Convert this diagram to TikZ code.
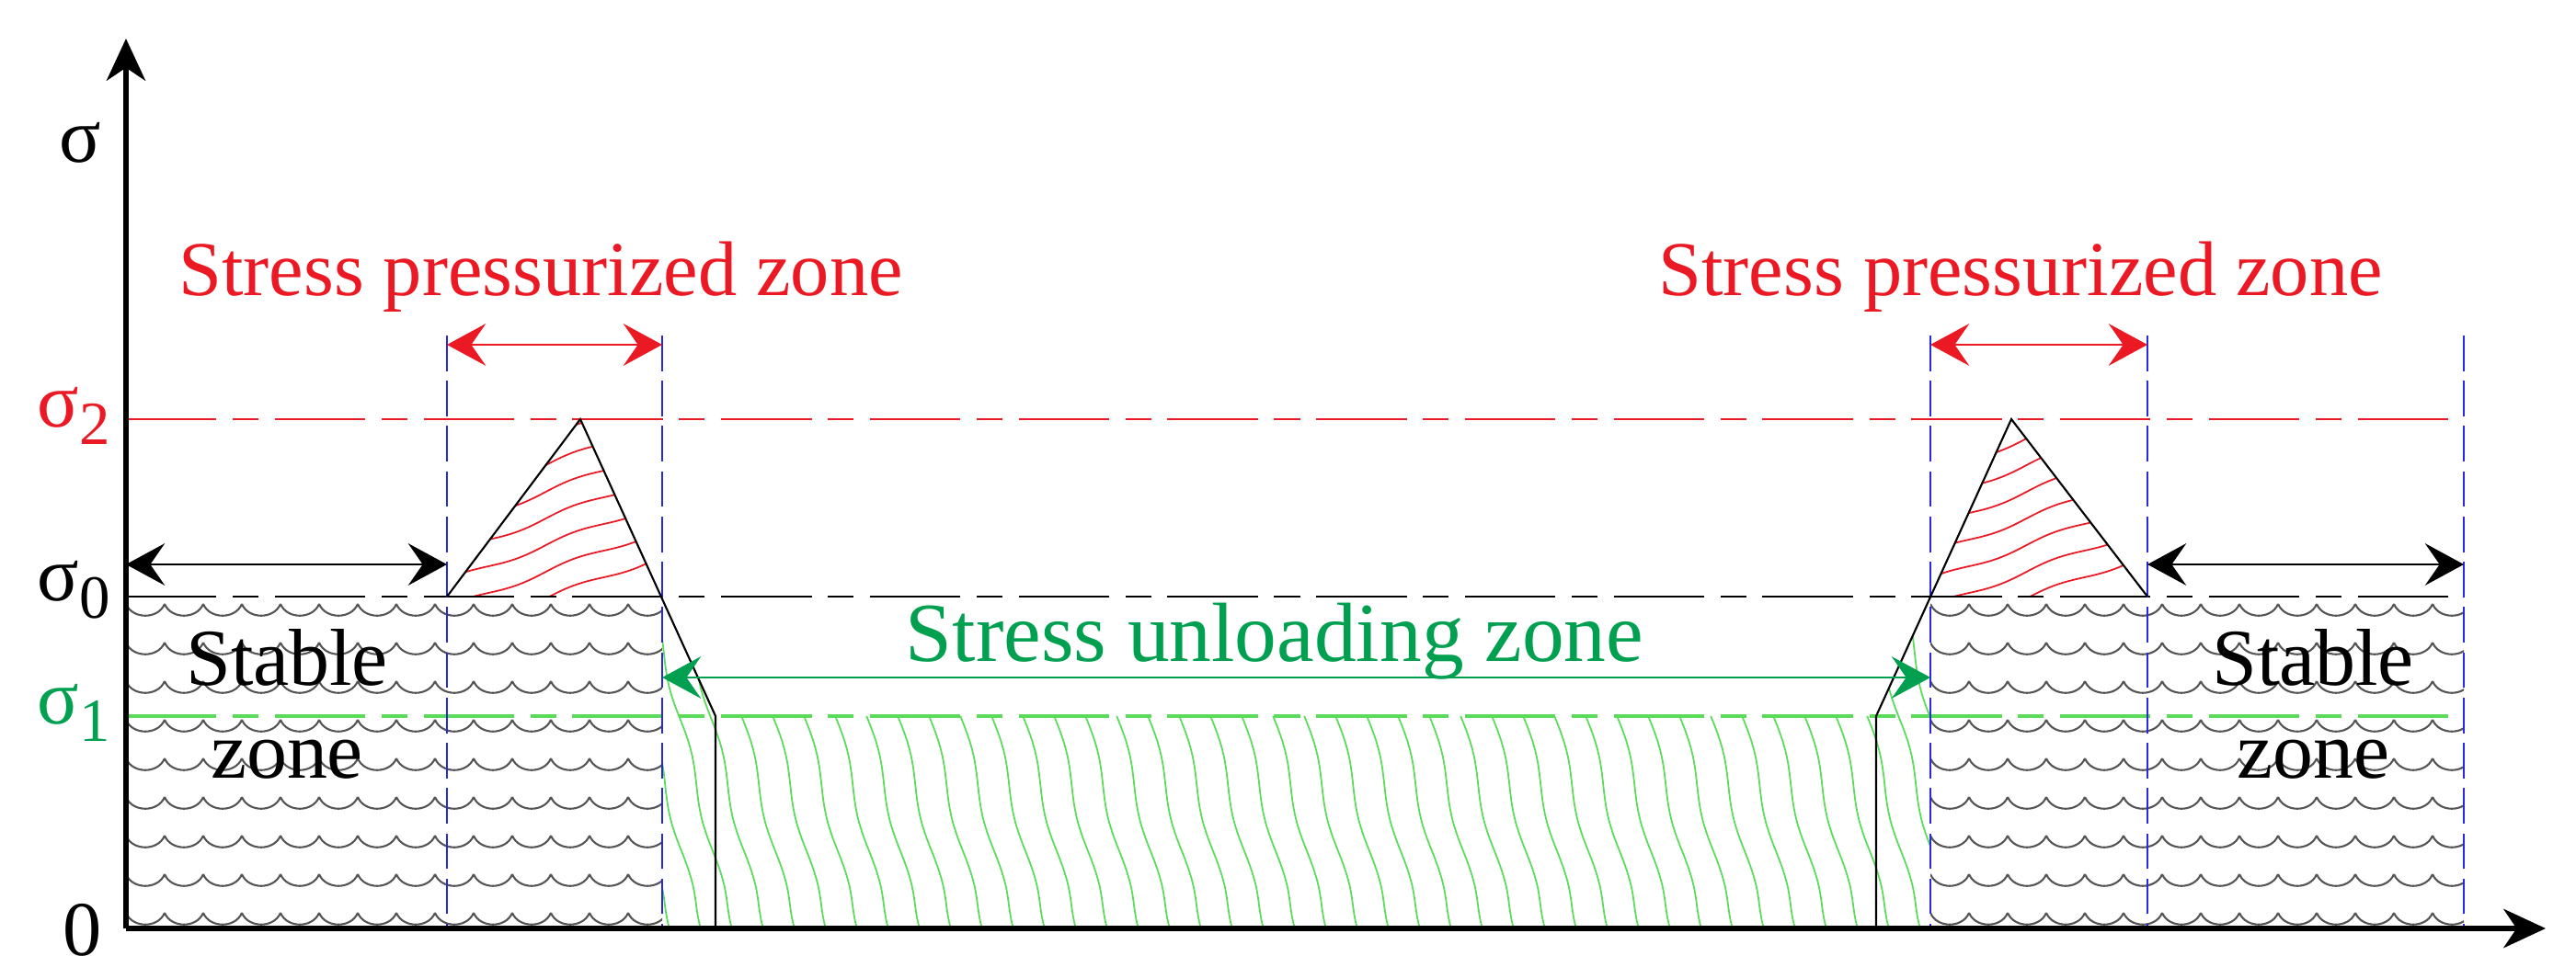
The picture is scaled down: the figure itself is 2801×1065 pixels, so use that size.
\documentclass[tikz,border=0pt]{standalone}
\usepackage{fontspec}
\setmainfont{Liberation Serif}
\usetikzlibrary{arrows.meta, decorations.pathmorphing}

\definecolor{zonered}{RGB}{235,25,35}
\definecolor{zonegreen}{RGB}{0,160,80}
\definecolor{hatchgreen}{RGB}{90,220,90}
\definecolor{boundblue}{RGB}{40,40,225}
\definecolor{wavegray}{RGB}{85,85,85}

\newcommand{\sigsub}[1]{σ\raisebox{-0.5ex}{\fontsize{19}{19}\selectfont #1}}

\begin{document}
\begin{tikzpicture}[
    x=0.01cm, y=-0.01cm,
    axis/.style = {line width=1.7pt, -{Stealth[length=13pt, width=12pt, inset=4pt]}},
    span/.style = {line width=0.8pt, {Stealth[length=12pt, width=13pt, inset=4.5pt]}-{Stealth[length=12pt, width=13pt, inset=4.5pt]}},
    bound/.style = {boundblue, line width=0.6pt, dash pattern=on 11pt off 3pt},
    level/.style = {line width=0.6pt, dash pattern=on 28pt off 5pt on 8pt off 5pt},
    profile/.style = {line width=0.6pt},
    wave/.style = {wavegray, line width=0.6pt},
    redhatch/.style = {zonered, line width=0.5pt, decorate, decoration={snake, amplitude=0.8pt, segment length=38pt}},
    greenhatch/.style = {hatchgreen, line width=0.5pt, decorate, decoration={snake, amplitude=0.9pt, segment length=42pt}},
    label/.style = {font=\fontsize{24}{28}\selectfont, inner sep=0pt}
]
\useasboundingbox (0,0) rectangle (2801,1065);

% Key points
\coordinate (O) at (137,1010);
\coordinate (ytip) at (137,42);
\coordinate (xtip) at (2768,1010);
\coordinate (s0) at (137,649);
\coordinate (b1) at (486,649);
\coordinate (b2) at (720,649);
\coordinate (b3) at (2099,649);
\coordinate (b4) at (2335,649);
\coordinate (b5) at (2679,649);
\coordinate (peakL) at (631,456);
\coordinate (peakR) at (2187,456);
\coordinate (footL) at (778,779);
\coordinate (footR) at (2040,779);

% Stable zone waves
\begin{scope}
\clip (137,649) rectangle (720,1010);
\foreach \r in {0,...,8}{
  \pgfmathsetmacro{\wy}{657+42*\r}
  \foreach \x in {137,179,...,720}
    \draw[wave] (\x,\wy) .. controls (\x+7,\wy+17) and (\x+35,\wy+17) .. (\x+42,\wy);
}
\end{scope}
\begin{scope}
\clip (2099,649) rectangle (2679,1010);
\foreach \r in {0,...,8}{
  \pgfmathsetmacro{\wy}{657+42*\r}
  \foreach \x in {2099,2141,...,2680}
    \draw[wave] (\x,\wy) .. controls (\x+7,\wy+17) and (\x+35,\wy+17) .. (\x+42,\wy);
}
\end{scope}

% Pressurized zone hatching
\begin{scope}
\clip (b1) -- (peakL) -- (b2) -- cycle;
\foreach \k in {0,...,9}
  \draw[redhatch] (460,700-29*\k) -- (760,590-29*\k);
\end{scope}
\begin{scope}
\clip (b3) -- (peakR) -- (b4) -- cycle;
\foreach \k in {0,...,9}
  \draw[redhatch] (2070,700-29*\k) -- (2370,590-29*\k);
\end{scope}

% Unloading zone hatching
\begin{scope}
\clip (b2) -- (footL) -- (footR) -- (b3) -- (2099,1010) -- (720,1010) -- cycle;
\foreach \x in {600,634,...,2110}
  \draw[greenhatch] (\x,630) -- (\x+95,1015);
\end{scope}

% Stress levels
\draw[level, zonered] (137,456) -- (2679,456);
\draw[level] (s0) -- (b5);
\draw[level, hatchgreen, line width=1.4pt] (137,779) -- (2679,779);

% Zone boundaries
\foreach \x in {486,720,2099,2335,2679}
  \draw[bound] (\x,365) -- (\x,1010);

% Stress profile
\draw[profile] (b1) -- (peakL) -- (footL) -- (778,1010);
\draw[profile] (2040,1010) -- (footR) -- (peakR) -- (b4);

% Zone widths
\coordinate (pl1) at (486,375);
\coordinate (pl2) at (720,375);
\coordinate (pr1) at (2099,375);
\coordinate (pr2) at (2335,375);
\coordinate (sl1) at (137,614);
\coordinate (sl2) at (486,614);
\coordinate (sr1) at (2335,614);
\coordinate (sr2) at (2679,614);
\coordinate (ul1) at (720,737);
\coordinate (ul2) at (2099,737);
\draw[span, zonered] (pl1) -- (pl2);
\draw[span, zonered] (pr1) -- (pr2);
\draw[span] (sl1) -- (sl2);
\draw[span] (sr1) -- (sr2);
\draw[span, zonegreen] (ul1) -- (ul2);

% Labels
\node[label, zonered, anchor=base] (presleft) at (588,322) {Stress pressurized zone};
\node[label, zonered, anchor=base] (presright) at (2197,322) {Stress pressurized zone};
\node[label, zonegreen, anchor=base, font=\fontsize{26}{30}\selectfont] (unload) at (1386,720) {Stress unloading zone};
\node[label, anchor=north, align=center, font=\fontsize{25}{28.7}\selectfont] (stableleft) at (312,684) {Stable\\zone};
\node[label, anchor=north, align=center, font=\fontsize{25}{28.7}\selectfont] (stableright) at (2515,684) {Stable\\zone};

\node[label, anchor=mid] (sigma) at (87,168) {σ};
\node[label, anchor=mid west, zonered] (sig2) at (40,456) {\sigsub{2}};
\node[label, anchor=mid west] (sig0) at (40,645) {\sigsub{0}};
\node[label, anchor=mid west, zonegreen] (sig1) at (40,779) {\sigsub{1}};
\node[label, anchor=center] (zero) at (90,1012) {0};

% Axes
\draw[axis] (O) -- (ytip);
\draw[axis] (O) -- (xtip);

\end{tikzpicture}
\end{document}
